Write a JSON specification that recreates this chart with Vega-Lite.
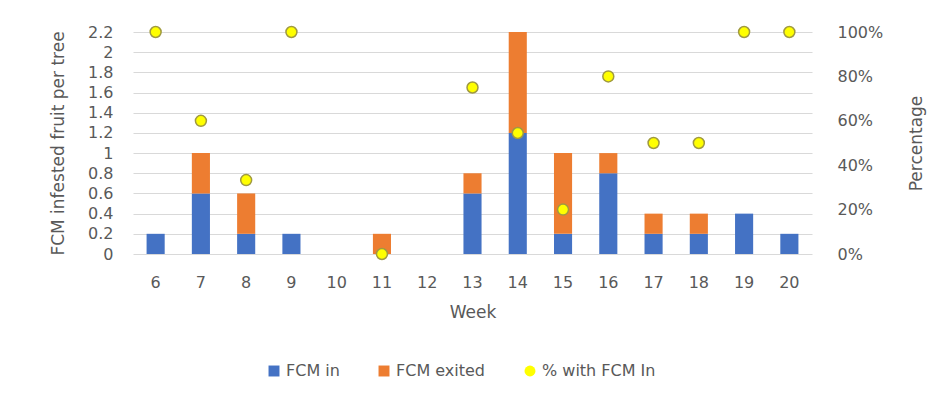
{
  "$schema": "https://vega.github.io/schema/vega-lite/v6.json",
  "autosize": {"type": "none"},
  "width": 679,
  "height": 222,
  "padding": {"left": 133, "top": 32, "right": 137, "bottom": 144},
  "background": "white",
  "config": {
    "font": "DejaVu Sans",
    "view": {"stroke": null},
    "axis": {
      "labelColor": "#595959",
      "titleColor": "#595959",
      "labelFont": "DejaVu Sans",
      "titleFont": "DejaVu Sans",
      "labelFontSize": 16,
      "titleFontSize": 17,
      "titleFontWeight": "normal",
      "ticks": false,
      "domain": false
    },
    "legend": {
      "labelColor": "#595959",
      "labelFont": "DejaVu Sans",
      "labelFontSize": 16
    }
  },
  "datasets": {
    "counts": [
      {"week": "6", "series": "FCM in", "value": 0.2},
      {"week": "7", "series": "FCM in", "value": 0.6},
      {"week": "7", "series": "FCM exited", "value": 0.4},
      {"week": "8", "series": "FCM in", "value": 0.2},
      {"week": "8", "series": "FCM exited", "value": 0.4},
      {"week": "9", "series": "FCM in", "value": 0.2},
      {"week": "11", "series": "FCM exited", "value": 0.2},
      {"week": "13", "series": "FCM in", "value": 0.6},
      {"week": "13", "series": "FCM exited", "value": 0.2},
      {"week": "14", "series": "FCM in", "value": 1.2},
      {"week": "14", "series": "FCM exited", "value": 1.0},
      {"week": "15", "series": "FCM in", "value": 0.2},
      {"week": "15", "series": "FCM exited", "value": 0.8},
      {"week": "16", "series": "FCM in", "value": 0.8},
      {"week": "16", "series": "FCM exited", "value": 0.2},
      {"week": "17", "series": "FCM in", "value": 0.2},
      {"week": "17", "series": "FCM exited", "value": 0.2},
      {"week": "18", "series": "FCM in", "value": 0.2},
      {"week": "18", "series": "FCM exited", "value": 0.2},
      {"week": "19", "series": "FCM in", "value": 0.4},
      {"week": "20", "series": "FCM in", "value": 0.2}
    ],
    "share": [
      {"week": "6", "series": "% with FCM In", "pct": 1.0},
      {"week": "7", "series": "% with FCM In", "pct": 0.6},
      {"week": "8", "series": "% with FCM In", "pct": 0.333},
      {"week": "9", "series": "% with FCM In", "pct": 1.0},
      {"week": "11", "series": "% with FCM In", "pct": 0.0},
      {"week": "13", "series": "% with FCM In", "pct": 0.75},
      {"week": "14", "series": "% with FCM In", "pct": 0.545},
      {"week": "15", "series": "% with FCM In", "pct": 0.2},
      {"week": "16", "series": "% with FCM In", "pct": 0.8},
      {"week": "17", "series": "% with FCM In", "pct": 0.5},
      {"week": "18", "series": "% with FCM In", "pct": 0.5},
      {"week": "19", "series": "% with FCM In", "pct": 1.0},
      {"week": "20", "series": "% with FCM In", "pct": 1.0}
    ]
  },
  "encoding": {
    "x": {
      "field": "week",
      "type": "ordinal",
      "scale": {
        "domain": ["6", "7", "8", "9", "10", "11", "12", "13", "14", "15", "16", "17", "18", "19", "20"],
        "paddingInner": 0.6,
        "paddingOuter": 0.3
      },
      "axis": {
        "title": "Week",
        "labelAngle": 0,
        "labelPadding": 20,
        "titlePadding": 14
      }
    }
  },
  "layer": [
    {
      "data": {"name": "counts"},
      "mark": {"type": "bar"},
      "encoding": {
        "y": {
          "field": "value",
          "type": "quantitative",
          "stack": "zero",
          "scale": {"domain": [0, 2.2], "nice": false},
          "axis": {
            "title": "FCM infested fruit per tree",
            "format": "~g",
            "values": [0, 0.2, 0.4, 0.6, 0.8, 1, 1.2, 1.4, 1.6, 1.8, 2, 2.2],
            "grid": true,
            "gridColor": "#d9d9d9",
            "gridWidth": 1.2,
            "labelPadding": 20,
            "titlePadding": 20
          }
        },
        "color": {
          "field": "series",
          "type": "nominal",
          "scale": {
            "domain": ["FCM in", "FCM exited", "% with FCM In"],
            "range": ["#4472C4", "#ED7D31", "#FFFF00"]
          },
          "legend": {
            "title": null,
            "orient": "none",
            "legendX": 133,
            "legendY": 331,
            "direction": "horizontal",
            "columnPadding": 36,
            "symbolSize": 120,
            "symbolStrokeColor": "#A09A40",
            "symbolStrokeWidth": 0
          }
        },
        "order": {"field": "series", "sort": "descending"}
      }
    },
    {
      "data": {"name": "share"},
      "mark": {"type": "point", "filled": true, "size": 120, "stroke": "#A09A40", "strokeWidth": 1.5, "opacity": 1},
      "encoding": {
        "y": {
          "field": "pct",
          "type": "quantitative",
          "scale": {"domain": [0, 1], "nice": false},
          "axis": {
            "title": "Percentage",
            "titleAngle": 270,
            "orient": "right",
            "format": ".0%",
            "values": [0, 0.2, 0.4, 0.6, 0.8, 1],
            "grid": false,
            "labelPadding": 25,
            "titlePadding": 43
          }
        },
        "color": {"field": "series", "type": "nominal"},
        "shape": {
          "field": "series",
          "type": "nominal",
          "scale": {
            "domain": ["FCM in", "FCM exited", "% with FCM In"],
            "range": ["square", "square", "circle"]
          },
          "legend": null
        }
      }
    }
  ],
  "resolve": {"scale": {"y": "independent"}}
}
